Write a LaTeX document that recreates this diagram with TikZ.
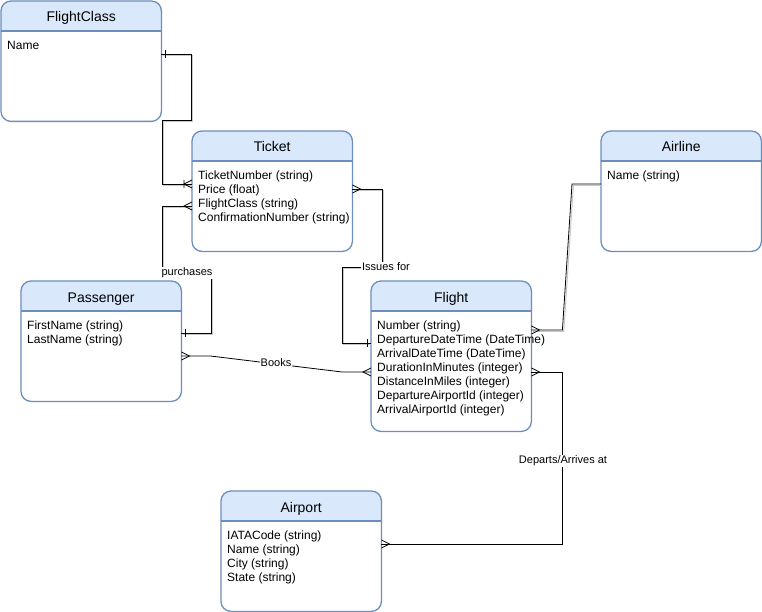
\documentclass[tikz,border=0pt]{standalone}
\usepackage{fontspec}
\setmainfont{Liberation Sans}
\usetikzlibrary{arrows.meta}

\definecolor{erborder}{HTML}{6C8EBF}
\definecolor{erhead}{HTML}{DAE8FC}
\definecolor{ershadow}{HTML}{C8C8C8}

% crow's foot: "many" end of a relationship
\pgfdeclarearrow{
  name=ErMany,
  setup code={
    \pgfarrowssettipend{0pt}
    \pgfarrowssetlineend{0pt}
    \pgfarrowssetbackend{-8pt}
    \pgfarrowshullpoint{0pt}{4pt}
    \pgfarrowshullpoint{0pt}{-4pt}
    \pgfarrowshullpoint{-8pt}{0pt}
  },
  drawing code={
    \pgfsetdash{}{0pt}
    \pgfpathmoveto{\pgfqpoint{0pt}{4pt}}
    \pgfpathlineto{\pgfqpoint{-8pt}{0pt}}
    \pgfpathlineto{\pgfqpoint{0pt}{-4pt}}
    \pgfusepathqstroke
  }
}
% single bar: "one" end
\pgfdeclarearrow{
  name=ErOne,
  setup code={
    \pgfarrowssettipend{0pt}
    \pgfarrowssetlineend{0pt}
    \pgfarrowssetbackend{-5pt}
    \pgfarrowshullpoint{-4pt}{4pt}
    \pgfarrowshullpoint{-4pt}{-4pt}
  },
  drawing code={
    \pgfsetdash{}{0pt}
    \pgfpathmoveto{\pgfqpoint{-4pt}{4pt}}
    \pgfpathlineto{\pgfqpoint{-4pt}{-4pt}}
    \pgfusepathqstroke
  }
}
% bar plus crow's foot: "one or many" end
\pgfdeclarearrow{
  name=ErOneMany,
  setup code={
    \pgfarrowssettipend{0pt}
    \pgfarrowssetlineend{0pt}
    \pgfarrowssetbackend{-10pt}
    \pgfarrowshullpoint{0pt}{4pt}
    \pgfarrowshullpoint{0pt}{-4pt}
    \pgfarrowshullpoint{-9pt}{4pt}
    \pgfarrowshullpoint{-9pt}{-4pt}
  },
  drawing code={
    \pgfsetdash{}{0pt}
    \pgfpathmoveto{\pgfqpoint{0pt}{4pt}}
    \pgfpathlineto{\pgfqpoint{-8pt}{0pt}}
    \pgfpathlineto{\pgfqpoint{0pt}{-4pt}}
    \pgfpathmoveto{\pgfqpoint{-8pt}{4pt}}
    \pgfpathlineto{\pgfqpoint{-8pt}{-4pt}}
    \pgfusepathqstroke
  }
}

\tikzset{
  ebody/.style={rectangle, fill=white, draw=none, rounded corners=10pt, inner sep=0pt},
  eborder/.style={draw=erborder, line width=1.3pt, rounded corners=10pt},
  etitle/.style={font=\fontsize{14}{16}\selectfont, inner sep=0pt, anchor=base},
  eattr/.style={font=\fontsize{12}{14}\selectfont, align=left, inner sep=0pt},
  conn/.style={draw=black, line width=0.8pt},
  shadowed/.style={preaction={draw=ershadow, line width=1pt, -, transform canvas={shift={(1.4pt,-1.4pt)}}}},
  lbl/.style={font=\fontsize{11}{13}\selectfont, fill=white, inner sep=0.8pt}
}

% entity box: name, x, y, width, height, title, attributes
\newcommand\erentity[7]{%
  \node[ebody, minimum width=#4pt, minimum height=#5pt, anchor=north west] (#1) at (#2,#3) {};
  \begin{scope}
    \clip (#1.north west) rectangle ([yshift=-30pt]#1.north east);
    \fill[erhead, rounded corners=10pt] (#1.north west) rectangle (#1.south east);
  \end{scope}
  \draw[draw=erborder, line width=1.3pt] ([yshift=-30pt]#1.north west) -- ([yshift=-30pt]#1.north east);
  \draw[eborder] (#1.north west) rectangle (#1.south east);
  \node[etitle] (#1-title) at ([yshift=-21pt]#1.north) {#6};
  \node[eattr, anchor=north west] (#1-attrs) at ([xshift=6pt,yshift=-40pt]#1.north west) {#7};
}

\begin{document}
\begin{tikzpicture}[x=1pt, y=-1pt]
  \useasboundingbox (0,0) rectangle (762,612);

  \erentity{fc}{1}{1}{160}{120}{FlightClass}{Name}
  \erentity{tk}{192}{131}{160}{120}{Ticket}{TicketNumber (string)\\Price (float)\\FlightClass (string)\\ConfirmationNumber (string)}
  \erentity{al}{601}{131}{160}{120}{Airline}{Name (string)}
  \erentity{ps}{21}{281}{160}{120}{Passenger}{FirstName (string)\\LastName (string)}
  \erentity{fl}{371}{281}{160}{150}{Flight}{Number (string)\\DepartureDateTime (DateTime)\\ArrivalDateTime (DateTime)\\DurationInMinutes (integer)\\DistanceInMiles (integer)\\DepartureAirportId (integer)\\ArrivalAirportId (integer)}
  \erentity{ap}{221}{491}{160}{120}{Airport}{IATACode (string)\\Name (string)\\City (string)\\State (string)}

  % FlightClass -- Ticket
  \draw[conn, shadowed, ErOne-ErOneMany] ([yshift=-53pt]fc.north east) -- ++(30,0) -- ++(0,66) -- ++(-29,0)
    |- ([yshift=-53pt]tk.north west);
  % Passenger -- Ticket
  \draw[conn, shadowed, ErOne-ErMany] ([yshift=-52pt]ps.north east) -- ++(30,0) -- ++(0,-61) -- ++(-49,0)
    |- ([yshift=-75pt]tk.north west);
  % Ticket -- Flight
  \draw[conn, shadowed, ErMany-ErOne] ([yshift=-58pt]tk.north east) -- ++(30,0) -- ++(0,78) -- ++(-40,0)
    |- ([yshift=-62pt]fl.north west);
  % Airline -- Flight
  \draw[conn, shadowed, -ErMany] ([yshift=-53pt]al.north west) -- ++(-29,0)
    -- ([xshift=31pt,yshift=-49pt]fl.north east) -- ([yshift=-49pt]fl.north east);
  % Passenger -- Flight
  \draw[conn, ErMany-ErMany] ([yshift=-75pt]ps.north east) -- ++(29,0)
    -- ([xshift=-29pt,yshift=-91pt]fl.north west) -- ([yshift=-91pt]fl.north west);
  % Flight -- Airport
  \draw[conn, ErMany-ErMany] ([yshift=-91pt]fl.north east) -- ++(31,0)
    |- ([yshift=-53pt]ap.north east);

  % relationship labels
  \node[lbl] (purchases) at (187,273) {purchases};
  \node[lbl] (issuesfor) at (386,267) {Issues for};
  \node[lbl] (books) at (276,363) {Books};
  \node[lbl] (departs) at (563,461) {Departs/Arrives at};
\end{tikzpicture}
\end{document}
